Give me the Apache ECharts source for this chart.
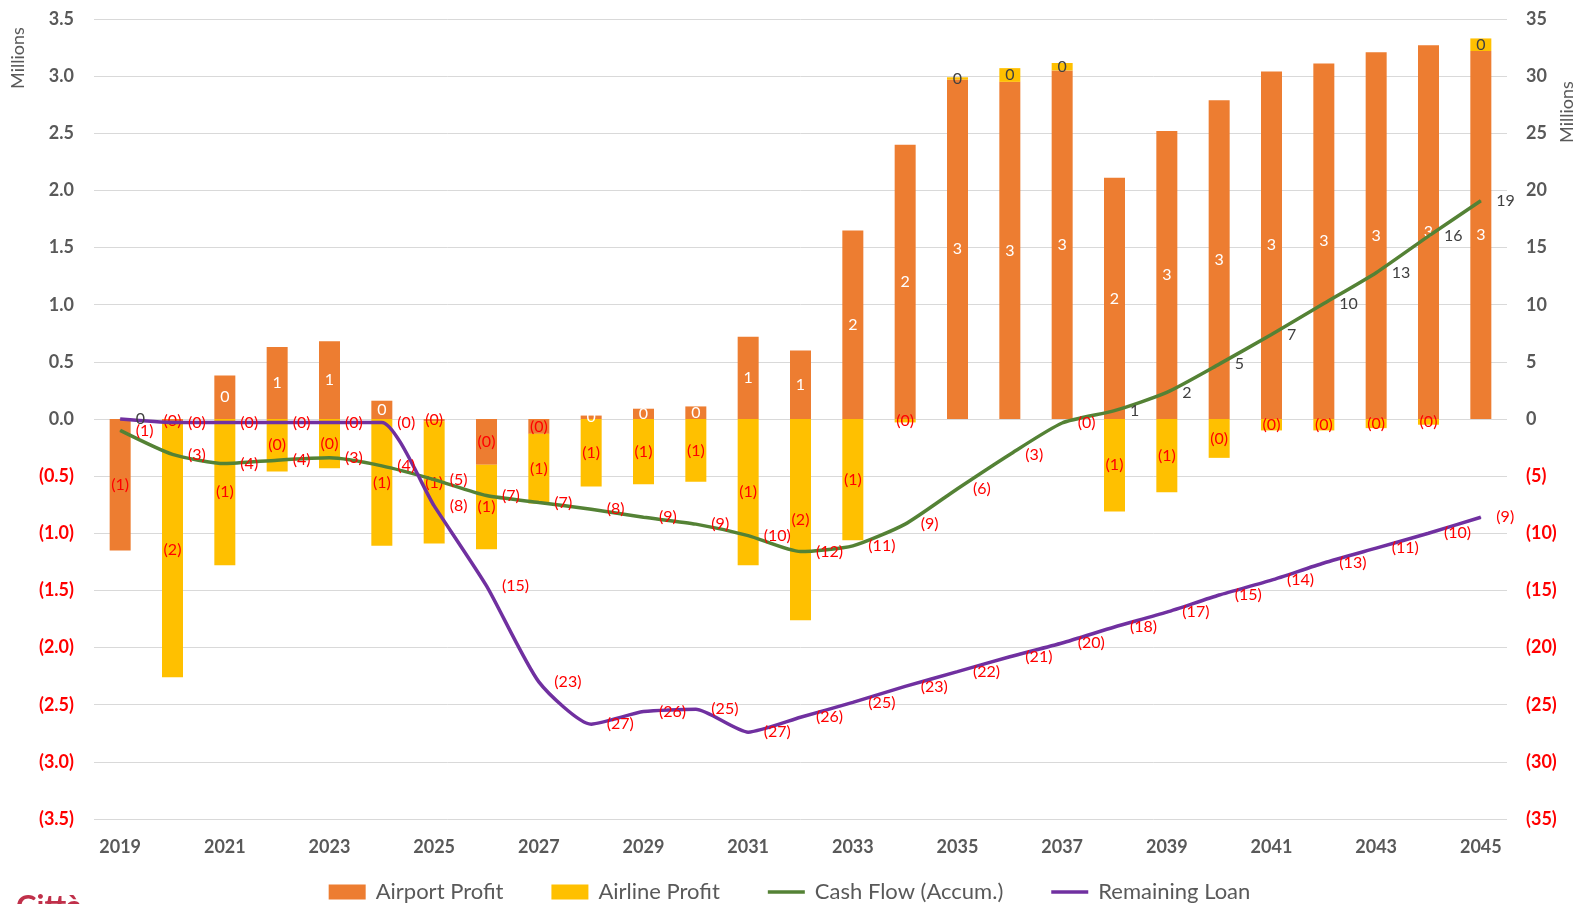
<!DOCTYPE html>
<html><head><meta charset="utf-8">
<script src="https://cdn.jsdelivr.net/npm/echarts@6/dist/echarts.min.js"></script>
<style>html,body{margin:0;padding:0;background:#fff}#c{width:1579px;height:904px}</style>
</head><body><div id="c"></div>
<script>
// ---- data (millions) ----
const years = ['2019','2020','2021','2022','2023','2024','2025','2026','2027','2028','2029','2030','2031','2032','2033','2034','2035','2036','2037','2038','2039','2040','2041','2042','2043','2044','2045'];
const airportProfit = [-1.15,-0.03,0.38,0.63,0.68,0.16,-0.02,-0.40,-0.13,0.03,0.09,0.11,0.72,0.60,1.65,2.40,2.97,2.95,3.05,2.11,2.52,2.79,3.04,3.11,3.21,3.27,3.22];
const airlineProfit = ['-',-2.23,-1.28,-0.46,-0.43,-1.11,-1.07,-0.74,-0.61,-0.59,-0.57,-0.55,-1.28,-1.76,-1.06,-0.03,0.02,0.12,0.065,-0.81,-0.64,-0.34,-0.10,-0.10,-0.08,-0.05,0.11];
const cashFlowAccum = [-1.0,-3.1,-3.9,-3.6,-3.4,-4.1,-5.3,-6.7,-7.3,-7.9,-8.6,-9.2,-10.2,-11.6,-11.1,-9.2,-6.1,-3.1,-0.35,0.73,2.33,4.8,7.4,10.1,12.8,16.0,19.1];
const remainingLoan = [0,-0.3,-0.3,-0.3,-0.3,-0.3,-7.6,-14.6,-23.0,-26.7,-25.6,-25.4,-27.4,-26.1,-24.8,-23.4,-22.1,-20.8,-19.6,-18.2,-16.9,-15.4,-14.1,-12.6,-11.3,-10.0,-8.6];
const seriesNames = ['Airport Profit','Airline Profit','Cash Flow (Accum.)','Remaining Loan'];
const leftAxisRange = {min:-3.5, max:3.5, interval:0.5};
const rightAxisRange = {min:-35, max:35, interval:5};
const unitLabel = 'Millions';
const footerText = 'Città';

// ---- styles ----
const F = 'Lato, "Open Sans", sans-serif';
const GREY = '#595959', RED = '#FF0000', DARK = '#404040';
const C_AIRPORT = '#ED7D31', C_AIRLINE = '#FFC000', C_CASH = '#548235', C_LOAN = '#7030A0';

function fmtInt(v){ const r = Math.round(Math.abs(v)); return v < 0 ? '(' + r + ')' : String(r); }
function axisFmt(dec){
  return function(v){
    const s = Math.abs(v).toFixed(dec);
    return v < 0 ? '{n|(' + s + ')}' : '{p|' + s + '}';
  };
}
const axisRich = {
  n:{color:RED, fontSize:18, fontWeight:'bold', fontFamily:F},
  p:{color:GREY, fontSize:18, fontWeight:'bold', fontFamily:F}
};
function labelRich(posColor){
  return {
    n:{color:RED, fontSize:16, fontFamily:F},
    p:{color:posColor, fontSize:16, fontFamily:F}
  };
}
function labelFmt(p){
  const v = Array.isArray(p.value) ? p.value[1] : p.value;
  if (v === '-' || v == null) return '';
  return v < 0 ? '{n|' + fmtInt(v) + '}' : '{p|' + fmtInt(v) + '}';
}

const chart = echarts.init(document.getElementById('c'), null, {renderer:'canvas'});
chart.setOption({
  backgroundColor:'#ffffff',
  animation:false,
  grid:{left:94, right:72, top:19, bottom:85},
  legend:{
    top:876, left:'center',
    itemWidth:37, itemHeight:15, itemGap:48,
    textStyle:{fontSize:22, color:GREY, fontFamily:F, padding:[0,0,0,5]},
    data:[
      {name:seriesNames[0], icon:'rect'},
      {name:seriesNames[1], icon:'rect'},
      {name:seriesNames[2], icon:'path://M0,0H42V4H0Z'},
      {name:seriesNames[3], icon:'path://M0,0H42V4H0Z'}
    ]
  },
  xAxis:{
    type:'category', data:years,
    axisLine:{show:false, onZero:false}, axisTick:{show:false},
    axisLabel:{interval:1, margin:19, color:GREY, fontSize:18, fontWeight:'bold', fontFamily:F}
  },
  yAxis:[
    {type:'value', min:leftAxisRange.min, max:leftAxisRange.max, interval:leftAxisRange.interval,
     axisLine:{show:false}, axisTick:{show:false},
     splitLine:{lineStyle:{color:'#D9D9D9', width:1}},
     axisLabel:{margin:20, formatter:axisFmt(1), rich:axisRich}},
    {type:'value', min:rightAxisRange.min, max:rightAxisRange.max, interval:rightAxisRange.interval,
     axisLine:{show:false}, axisTick:{show:false}, splitLine:{show:false},
     axisLabel:{margin:19, formatter:axisFmt(0), rich:axisRich}}
  ],
  series:[
    {name:seriesNames[0], type:'bar', stack:'profit', barWidth:21, yAxisIndex:0,
     itemStyle:{color:C_AIRPORT}, data:airportProfit,
     label:{show:true, position:'inside', formatter:labelFmt, rich:labelRich('#ffffff')}},
    {name:seriesNames[1], type:'bar', stack:'profit', barWidth:21, yAxisIndex:0,
     itemStyle:{color:C_AIRLINE}, data:airlineProfit,
     label:{show:true, position:'inside', formatter:labelFmt, rich:labelRich(DARK)}},
    {name:seriesNames[2], type:'line', yAxisIndex:1, smooth:0.2, z:5,
     symbol:'circle', symbolSize:1, itemStyle:{color:C_CASH},
     lineStyle:{color:C_CASH, width:3.5}, data:cashFlowAccum,
     label:{show:true, position:'right', distance:15, formatter:labelFmt, rich:labelRich(DARK)}},
    {name:seriesNames[3], type:'line', yAxisIndex:1, smooth:0.2, z:5,
     symbol:'circle', symbolSize:1, itemStyle:{color:C_LOAN},
     lineStyle:{color:C_LOAN, width:3.5}, data:remainingLoan,
     label:{show:true, position:'right', distance:15, formatter:labelFmt, rich:labelRich(DARK)}}
  ],
  graphic:[
    {type:'text', x:18, y:58, rotation:Math.PI/2,
     style:{text:unitLabel, fill:GREY, fontSize:18, fontFamily:F, textAlign:'center', textVerticalAlign:'middle'}},
    {type:'text', x:1567, y:112, rotation:Math.PI/2,
     style:{text:unitLabel, fill:GREY, fontSize:18, fontFamily:F, textAlign:'center', textVerticalAlign:'middle'}},
    {type:'text', x:16, y:891,
     style:{text:footerText, fill:'#C0304A', fontSize:31, fontWeight:'bold', fontFamily:F, textAlign:'left', textVerticalAlign:'top'}}
  ]
});
</script>
</body></html>
